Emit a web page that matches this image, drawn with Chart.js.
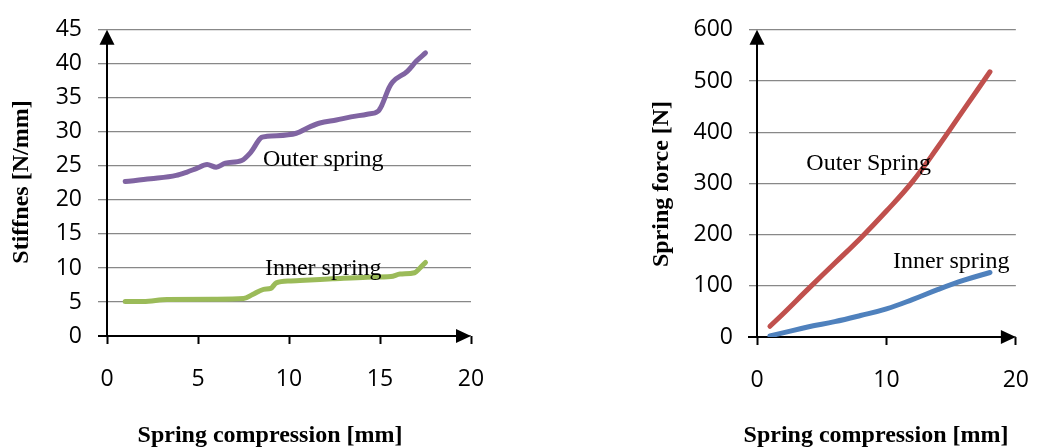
<!DOCTYPE html>
<html>
<head>
<meta charset="utf-8">
<script src="https://cdn.jsdelivr.net/npm/chart.js@4/dist/chart.umd.min.js"></script>
<style>
  html, body { margin: 0; padding: 0; background: #ffffff; }
  #wrap { position: relative; width: 1051px; height: 448px; overflow: hidden; }
  .panel { position: absolute; top: 0; height: 448px; }
  #left { left: 0; width: 525px; }
  #right { left: 525px; width: 526px; }
</style>
</head>
<body>
<div id="wrap">
  <div class="panel" id="left"><canvas id="stiffness" width="525" height="448"></canvas></div>
  <div class="panel" id="right"><canvas id="force" width="526" height="448"></canvas></div>
</div>
<script>
// Stiffness vs. compression (left panel)
const stiffOuterX = [1, 2.4, 3.8, 4.4, 4.9, 5.5, 6.0, 6.5, 7.4, 7.9, 8.5, 8.8, 10.4, 11.2, 11.7, 12.6, 13.4, 14.3, 14.9, 15.1, 15.5, 15.7, 16.5, 17.0, 17.5];
const stiffOuterY = [22.7, 23.1, 23.6, 24.1, 24.6, 25.2, 24.8, 25.4, 25.8, 27.0, 29.2, 29.35, 29.8, 30.8, 31.3, 31.75, 32.2, 32.6, 33.05, 33.9, 36.5, 37.35, 38.9, 40.4, 41.6];
const stiffInnerX = [1, 2, 3.3, 6.0, 7.5, 8.0, 8.6, 9.0, 9.3, 10.1, 10.6, 12.4, 14.3, 15.6, 16.1, 16.9, 17.2, 17.5];
const stiffInnerY = [5.07, 5.07, 5.37, 5.4, 5.5, 6.1, 6.85, 7.0, 7.8, 8.1, 8.15, 8.4, 8.65, 8.75, 9.1, 9.3, 10.0, 10.8];

// Spring force vs. compression (right panel)
const forceX = [1, 2, 4, 6, 8, 10, 12, 14, 16, 18];
const forceOuterY = [21, 45, 95, 144, 193, 246, 303, 372, 445, 518];
const forceInnerY = [2, 8, 20, 30, 42, 55, 73, 93, 111, 126];

// Axis ranges and titles
const stiffXTicks = { min: 0, max: 20, step: 5 };
const stiffYTicks = { min: 0, max: 45, step: 5 };
const forceXTicks = { min: 0, max: 20, step: 10 };
const forceYTicks = { min: 0, max: 600, step: 100 };
const xTitle = 'Spring compression [mm]';
const stiffYTitle = 'Stiffnes [N/mm]';
const forceYTitle = 'Spring force [N]';
const stiffSeriesNames = ['Outer spring', 'Inner spring'];
const forceSeriesNames = ['Outer Spring', 'Inner spring'];

const tickFont = { family: "'Open Sans', 'Noto Sans', sans-serif", size: 23 };
const serif = "'Liberation Serif', 'DejaVu Serif', serif";
const gridGray = '#888888';

function pts(xs, ys) { return xs.map((x, i) => ({ x, y: ys[i] })); }

function lineSet(data, color, smooth) {
  const ds = {
    data, borderColor: color, borderWidth: 5, pointRadius: 0,
    borderCapStyle: 'round', borderJoinStyle: 'round', fill: false
  };
  if (smooth === 'monotone') ds.cubicInterpolationMode = 'monotone';
  else ds.tension = 0.4;
  return ds;
}

// Draws the black axes with arrow heads, the axis titles and the in-plot series labels
function decorations(opts) {
  return {
    id: 'decor',
    beforeDatasetsDraw(chart) {
      const { ctx, chartArea: a } = chart;
      ctx.save();
      ctx.strokeStyle = '#000'; ctx.fillStyle = '#000'; ctx.lineWidth = 2;
      // vertical axis
      ctx.beginPath(); ctx.moveTo(a.left, a.bottom + 1); ctx.lineTo(a.left, a.top + 10); ctx.stroke();
      ctx.beginPath(); ctx.moveTo(a.left, a.top); ctx.lineTo(a.left - 7.5, a.top + 15); ctx.lineTo(a.left + 7.5, a.top + 15); ctx.closePath(); ctx.fill();
      // horizontal axis
      ctx.beginPath(); ctx.moveTo(a.left - 9, a.bottom); ctx.lineTo(a.right - 10, a.bottom); ctx.stroke();
      ctx.beginPath(); ctx.moveTo(a.right, a.bottom); ctx.lineTo(a.right - 15, a.bottom - 7); ctx.lineTo(a.right - 15, a.bottom + 7); ctx.closePath(); ctx.fill();
      ctx.restore();
    },
    afterDatasetsDraw(chart) {
      const { ctx, scales } = chart;
      ctx.save();
      ctx.fillStyle = '#000';
      ctx.font = '24px ' + serif;
      ctx.textAlign = 'left'; ctx.textBaseline = 'alphabetic';
      opts.labels.forEach(l => {
        ctx.fillText(l.text, scales.x.getPixelForValue(l.x), scales.y.getPixelForValue(l.y));
      });
      ctx.font = 'bold 24px ' + serif;
      ctx.textAlign = 'center';
      ctx.fillText(xTitle, opts.xTitlePos[0], opts.xTitlePos[1]);
      ctx.translate(opts.yTitlePos[0], opts.yTitlePos[1]);
      ctx.rotate(-Math.PI / 2);
      ctx.textBaseline = 'middle';
      ctx.fillText(opts.yTitle, 0, 0);
      ctx.restore();
    }
  };
}

function makeChart(id, cfg) {
  return new Chart(document.getElementById(id), {
    type: 'line',
    data: { datasets: cfg.datasets },
    options: {
      responsive: false, animation: false,
      layout: { padding: { top: 23, right: cfg.padRight, left: 0, bottom: 0 } },
      plugins: { legend: { display: false }, tooltip: { enabled: false } },
      scales: {
        x: {
          type: 'linear', min: cfg.xt.min, max: cfg.xt.max,
          afterFit: s => { s.height = cfg.xHeight; },
          border: { display: false },
          grid: { drawOnChartArea: false, drawTicks: true, tickLength: 8, tickColor: '#000', tickWidth: 2 },
          ticks: { stepSize: cfg.xt.step, color: '#000', font: tickFont, padding: 22, maxRotation: 0 }
        },
        y: {
          min: cfg.yt.min, max: cfg.yt.max,
          afterFit: s => { s.width = cfg.yWidth; },
          border: { display: false },
          grid: { color: gridGray, lineWidth: 1.3, tickLength: cfg.yTick, tickColor: gridGray },
          ticks: { stepSize: cfg.yt.step, color: '#000', font: tickFont, padding: 16 }
        }
      }
    },
    plugins: [decorations(cfg.decor)]
  });
}

makeChart('stiffness', {
  datasets: [
    lineSet(pts(stiffOuterX, stiffOuterY), '#8064A2', 'monotone'),
    lineSet(pts(stiffInnerX, stiffInnerY), '#9BBB59', 'monotone')
  ],
  xt: stiffXTicks, yt: stiffYTicks,
  padRight: 54, xHeight: 112, yWidth: 107, yTick: 9,
  decor: {
    yTitle: stiffYTitle, xTitlePos: [270, 442], yTitlePos: [22, 182],
    labels: [
      { text: stiffSeriesNames[0], x: 8.57, y: 25.0 },
      { text: stiffSeriesNames[1], x: 8.68, y: 8.9 }
    ]
  }
});

makeChart('force', {
  datasets: [
    lineSet(pts(forceX, forceOuterY), '#C0504D'),
    lineSet(pts(forceX, forceInnerY), '#4F81BD')
  ],
  xt: forceXTicks, yt: forceYTicks,
  padRight: 16, xHeight: 111, yWidth: 232, yTick: 8,
  decor: {
    yTitle: forceYTitle, xTitlePos: [351, 442], yTitlePos: [137, 184],
    labels: [
      { text: forceSeriesNames[0], x: 3.81, y: 325.7 },
      { text: forceSeriesNames[1], x: 10.5, y: 135.4 }
    ]
  }
});
</script>
</body>
</html>
